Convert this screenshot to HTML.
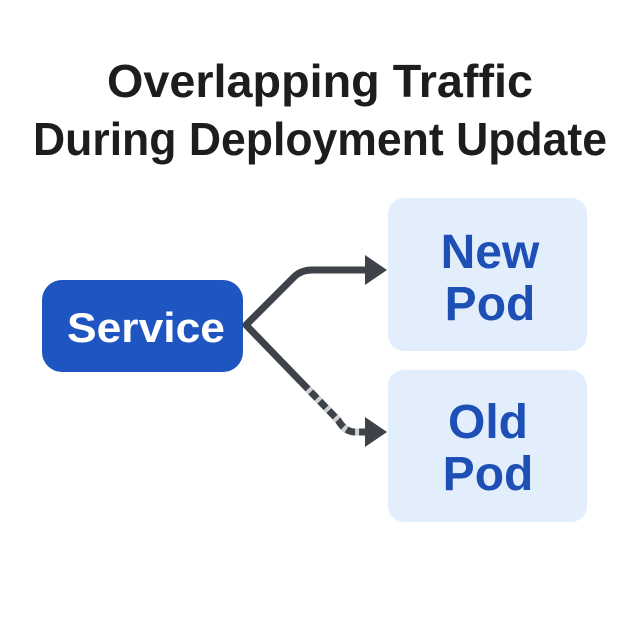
<!DOCTYPE html>
<html><head><meta charset="utf-8"><style>
html,body{margin:0;padding:0;background:#fff;}
svg{display:block;}
text{font-family:"Liberation Sans","DejaVu Sans",sans-serif;font-weight:bold;}
</style></head><body>
<svg width="640" height="640" viewBox="0 0 640 640" xmlns="http://www.w3.org/2000/svg">
<rect width="640" height="640" fill="#fff"/>
<text x="320" y="97" font-size="46" fill="#1c1d1f" text-anchor="middle" textLength="426" lengthAdjust="spacingAndGlyphs">Overlapping Traffic</text>
<text x="320" y="155" font-size="46" fill="#1c1d1f" text-anchor="middle" textLength="574" lengthAdjust="spacingAndGlyphs">During Deployment Update</text>
<rect x="42" y="280" width="201" height="92" rx="20" fill="#1f55c0"/>
<text x="146" y="342" font-size="42" fill="#fff" text-anchor="middle" textLength="158" lengthAdjust="spacingAndGlyphs">Service</text>
<rect x="388" y="198" width="199" height="153" rx="16" fill="#e3eefd"/>
<rect x="388" y="370" width="199" height="152" rx="16" fill="#e3eefd"/>
<g font-size="48" fill="#1e4fb5" text-anchor="middle">
<text x="490" y="268">New</text><text x="490" y="320">Pod</text>
<text x="488" y="438">Old</text><text x="488" y="490">Pod</text>
</g>
<path d="M367 270 H312 Q302 270 295 276 L246 325 L338 420 Q345 432 355 432 H367" fill="none" stroke="#3d4349" stroke-width="7" stroke-linejoin="round"/>
<path d="M308 389 L338 420 Q345 432 355 432 H362" fill="none" stroke="#d0d0d0" stroke-width="7" stroke-dasharray="4 9"/>
<polygon points="365,255 387,270 365,285" fill="#3d4349"/>
<polygon points="365,417 387,432 365,447" fill="#3d4349"/>
</svg>
</body></html>
